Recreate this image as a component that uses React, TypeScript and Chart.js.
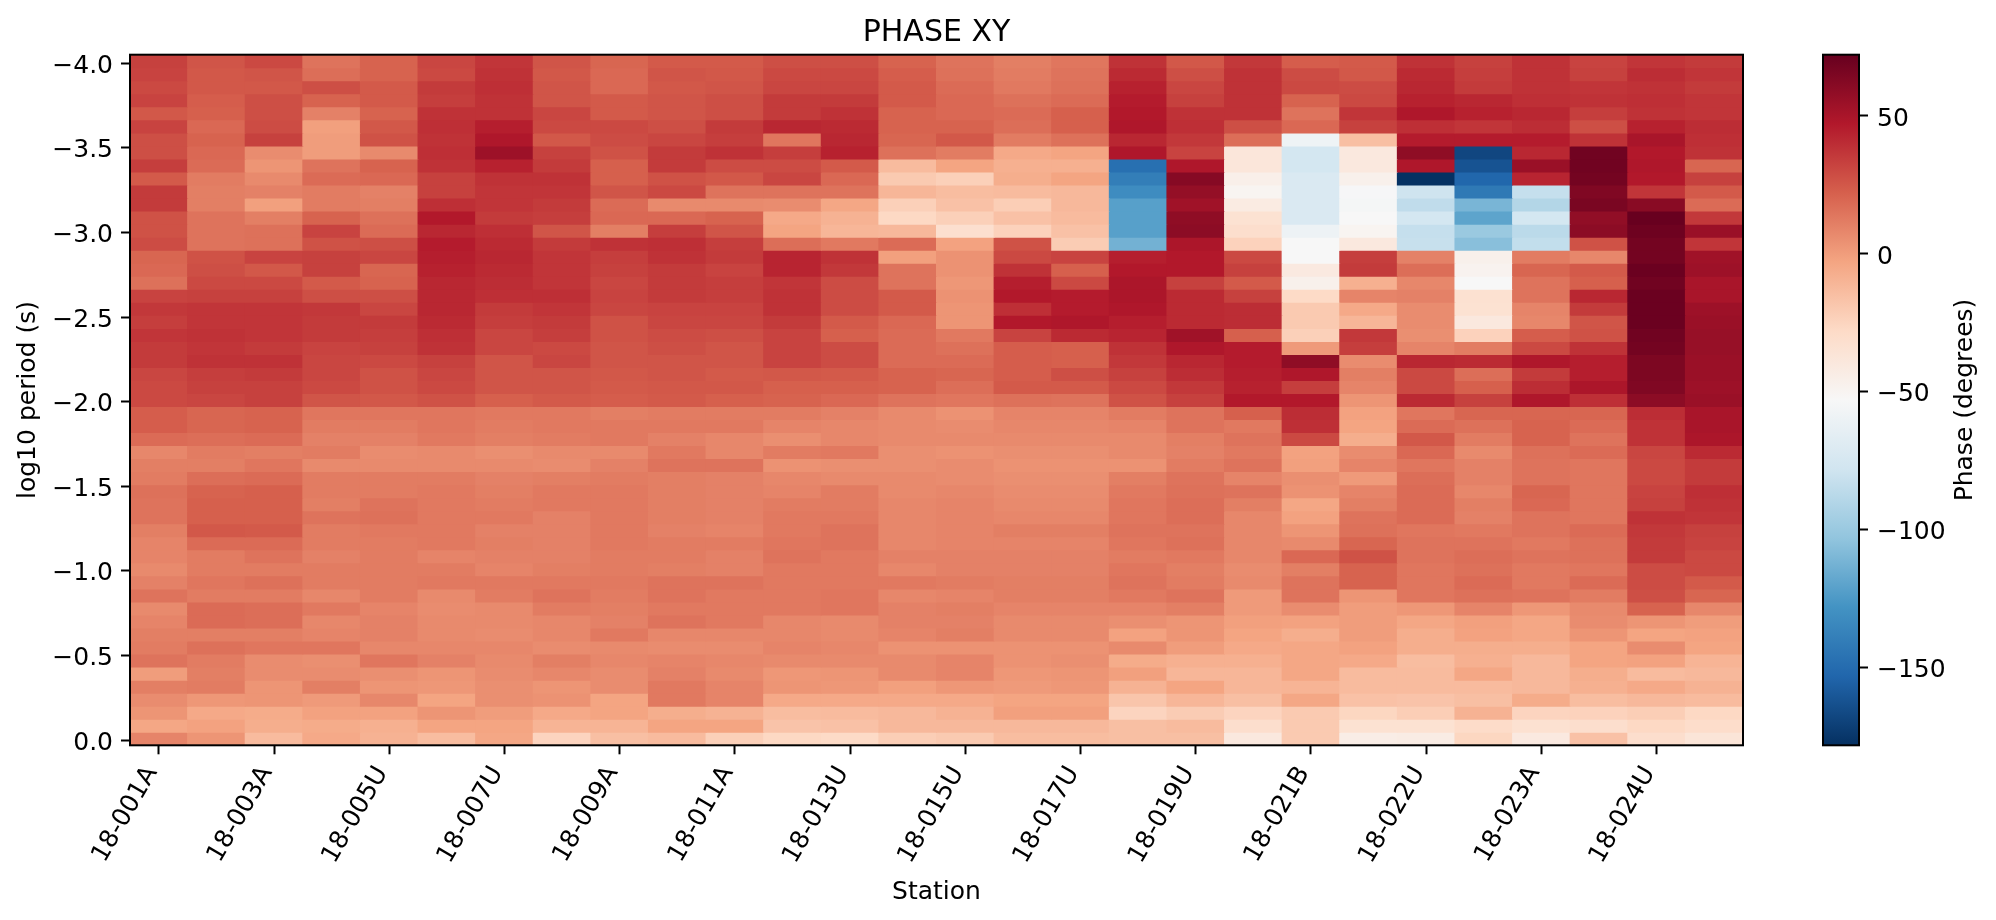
import React, { useEffect, useRef } from "react";
import { Chart, registerables } from "chart.js";

Chart.register(...registerables);

const stations = [
  "18-001A", "", "18-003A", "", "18-005U", "", "18-007U", "", "18-009A", "", "18-011A", "", "18-013U", "",
  "18-015U", "", "18-017U", "", "18-019U", "", "18-021B", "", "18-022U", "", "18-023A", "", "18-024U", "",
];

const rowEdges = [
  -4.05, -3.973, -3.896, -3.819, -3.742, -3.665, -3.588, -3.511, -3.434, -3.357, -3.28, -3.203, -3.126, -3.049,
  -2.972, -2.895, -2.818, -2.741, -2.664, -2.587, -2.51, -2.433, -2.356, -2.279, -2.202, -2.125, -2.049, -1.972,
  -1.895, -1.818, -1.741, -1.664, -1.587, -1.51, -1.433, -1.356, -1.279, -1.202, -1.125, -1.048, -0.971, -0.894,
  -0.817, -0.74, -0.663, -0.586, -0.509, -0.432, -0.355, -0.278, -0.201, -0.124, -0.047, 0.03,
];

const yTicks = [-4, -3.5, -3, -2.5, -2, -1.5, -1, -0.5, 0];
const cbTicks = [-150, -100, -50, 0, 50];
const vMin = -178.4;
const vMax = 72.2;

const s00 = [33,32,30,32,25,32,28,28,34,24,35,35,27,27,29,20,19,16,32,36,34,37,35,35,31,30,30,23,23,18,8,11,12,16,15,15,11,9,9,7,10,15,7,9,11,12,15,0,11,6,3,-4,9];
const s01 = [26,25,25,23,22,19,21,19,18,12,11,11,15,15,15,27,28,30,33,37,37,38,37,38,34,33,31,20,20,17,12,11,17,21,22,22,25,18,12,12,14,12,18,18,11,16,12,11,12,2,-5,-2,3];
const s02 = [30,26,25,28,28,29,33,6,3,7,10,-1,11,16,16,32,25,30,33,37,37,37,35,38,35,33,33,21,21,18,11,14,18,22,22,22,24,18,15,12,16,12,17,17,11,14,6,6,3,3,-6,-7,-13];
const s03 = [15,17,28,21,10,-1,0,0,15,18,12,12,21,32,27,33,33,24,28,36,35,35,32,31,31,30,26,14,12,10,12,7,12,12,11,15,12,12,10,12,12,8,13,8,9,14,5,6,11,1,-2,-6,-5];
const s04 = [21,21,24,24,21,25,27,7,21,19,10,11,16,18,28,31,20,21,28,31,35,34,33,30,27,27,25,14,12,10,6,7,12,12,15,16,13,12,12,12,12,12,9,10,10,8,14,5,3,8,-2,-8,-9];
const s05 = [31,30,35,34,38,39,38,39,38,33,33,39,47,42,46,45,44,42,42,42,41,39,38,33,31,30,27,14,14,13,7,7,12,13,13,13,13,13,9,12,13,7,6,7,7,8,10,3,2,-3,3,-3,-14];
const s06 = [37,38,39,38,38,45,48,54,44,38,37,37,35,39,41,42,41,40,39,35,34,31,31,26,26,26,22,13,12,11,5,7,10,11,12,13,10,11,10,9,13,12,7,7,6,8,7,6,5,5,0,-3,-4];
const s07 = [26,25,26,26,31,30,25,33,35,38,37,35,34,26,35,37,37,37,39,37,35,34,30,31,26,26,24,13,13,12,7,6,11,13,13,10,10,10,10,11,13,15,12,8,8,6,11,8,3,4,-5,-10,-25];
const s08 = [20,19,19,24,24,30,29,27,22,22,26,18,19,11,38,34,33,31,32,31,27,27,26,26,25,24,23,11,13,13,7,10,12,13,13,13,13,13,12,12,13,12,11,10,13,7,8,6,6,-3,-3,-10,-15];
const s09 = [24,26,25,26,26,28,31,35,35,27,30,7,19,34,39,38,35,35,35,32,31,29,28,26,26,25,24,12,13,10,13,15,11,11,11,11,10,12,12,11,15,15,13,15,8,6,9,10,13,13,-7,-3,-13];
const s10 = [24,25,26,28,28,35,34,38,29,25,15,7,21,26,34,35,32,34,34,32,31,28,26,26,24,25,22,12,13,8,8,15,10,10,10,10,9,12,10,10,15,13,13,13,8,6,8,7,9,9,-9,-3,-23];
const s11 = [28,30,31,35,35,42,14,34,29,31,15,6,-5,-3,17,43,43,37,38,38,35,32,32,32,25,22,21,12,9,5,12,4,8,9,12,13,13,14,15,13,13,13,13,8,8,9,7,2,3,-5,-14,-17,-27];
const s12 = [28,30,31,35,38,41,42,44,24,19,15,-4,-9,-11,13,38,36,29,29,29,24,22,29,29,24,22,19,10,8,8,13,5,7,12,12,13,15,15,13,13,13,14,14,7,7,8,7,3,2,-5,-13,-16,-28];
const s13 = [21,23,24,24,21,21,20,16,-13,-20,-11,-23,-27,-12,18,-1,15,15,24,24,19,18,18,18,21,21,15,7,7,7,5,5,7,7,8,8,8,8,10,8,13,8,10,10,9,4,7,7,-1,-5,-12,-12,-22];
const s14 = [15,16,18,19,19,21,25,12,-3,-23,-14,-16,-23,-32,-2,4,4,2,4,3,3,13,16,18,20,17,14,4,6,7,4,6,6,8,9,9,9,9,10,10,12,9,11,10,11,4,9,9,2,-5,-9,-12,-20];
const s15 = [11,12,13,16,18,17,12,-5,-8,-7,-13,-22,-16,-24,27,30,38,45,47,39,47,32,23,23,23,24,16,9,8,7,5,4,5,6,7,8,11,9,10,10,11,11,9,7,7,4,4,2,1,-3,-1,-12,-14];
const s16 = [14,15,16,18,22,22,16,-3,-8,-3,-12,-12,-13,-16,-21,32,22,30,46,46,48,41,22,22,28,24,15,9,8,7,5,4,5,6,7,8,11,9,10,10,11,11,9,7,7,4,5,3,2,-3,-1,-12,-14];
const s17 = [38,41,44,46,47,48,42,48,-148,-140,-132,-122,-122,-122,-113,45,47,49,49,48,45,43,38,36,33,30,27,12,9,7,7,4,11,13,14,14,15,14,12,14,15,13,9,5,-2,7,-6,-1,-9,-18,-25,-15,-15];
const s18 = [25,28,31,33,38,39,36,32,48,62,57,53,59,60,49,47,47,33,41,41,41,53,48,42,40,36,33,15,15,11,10,12,15,16,17,17,15,16,13,11,12,15,11,3,3,0,-8,-11,-3,-11,-21,-13,-15];
const s19 = [36,38,38,38,38,28,17,-38,-38,-46,-50,-42,-34,-31,-24,30,33,24,33,40,40,22,46,46,45,44,47,22,13,15,13,15,9,15,11,8,8,8,8,6,7,1,1,-1,-3,-5,-8,-11,-11,-15,-25,-31,-40];
const s20 = [23,29,30,21,15,19,-59,-76,-76,-72,-72,-72,-72,-60,-53,-53,-41,-47,-28,-20,-20,-23,1,59,48,34,47,40,39,30,-2,-1,5,4,-4,-2,3,7,19,11,15,15,6,-2,-7,-4,-4,-4,-10,-4,-20,-20,-20];
const s21 = [24,25,29,30,37,33,-15,-40,-40,-47,-54,-55,-53,-50,-40,34,35,-8,9,-5,-11,36,34,6,11,9,3,-2,-3,-7,6,9,1,9,11,15,16,20,27,21,21,3,0,0,0,-2,-5,-13,-13,-16,-26,-34,-44];
const s22 = [38,41,42,44,48,39,46,59,48,-178,-79,-85,-76,-83,-82,10,17,8,10,6,6,5,9,42,30,30,41,14,18,25,19,14,17,18,18,18,14,15,15,14,14,14,2,-4,-7,-7,-14,-13,-13,-17,-22,-34,-43];
const s23 = [33,34,35,42,44,37,46,-168,-162,-153,-143,-111,-120,-100,-106,-47,-49,-53,-33,-34,-40,-24,12,41,17,22,33,20,16,12,7,10,10,8,11,10,13,15,17,16,18,16,9,-1,-2,-7,-8,-4,-13,-15,-9,-29,-26];
const s24 = [38,38,38,39,42,40,46,42,55,43,-83,-90,-76,-87,-84,12,20,15,15,9,8,23,30,48,35,40,48,20,21,21,16,15,15,20,19,15,15,13,15,13,13,15,2,-4,-4,-7,-12,-12,-12,-6,-25,-33,-41];
const s25 = [32,33,37,38,34,28,38,69,69,68,64,66,58,60,27,8,24,22,42,35,26,27,38,45,45,49,39,20,18,15,18,14,14,14,14,14,18,16,16,14,18,12,7,6,3,-3,-3,-7,-8,-14,-24,-31,-16];
const s26 = [37,40,38,39,38,44,50,47,48,47,37,61,72,70,68,68,71,69,71,71,71,69,68,65,65,64,60,40,38,38,31,30,30,32,33,38,36,35,35,29,29,28,21,3,-3,6,-2,-13,-5,-12,-22,-27,-31];
const s27 = [35,37,35,37,37,40,39,38,20,33,24,18,36,55,37,53,54,50,50,54,55,56,56,55,55,54,55,50,50,49,41,35,35,39,38,37,33,32,30,30,24,20,8,0,-2,-3,-10,-12,-9,-13,-27,-30,-37];

const columns = [s00,s01,s02,s03,s04,s05,s06,s07,s08,s09,s10,s11,s12,s13,s14,s15,s16,s17,s18,s19,s20,s21,s22,s23,s24,s25,s26,s27];

const rdbuR = [
  [5, 48, 97], [33, 102, 172], [67, 147, 195], [146, 197, 222], [209, 229, 240], [247, 247, 247],
  [253, 219, 199], [244, 165, 130], [214, 96, 77], [178, 24, 43], [103, 0, 31],
];

function rampAt(t: number) {
  const p = Math.min(0.99999, Math.max(0, t)) * (rdbuR.length - 1);
  const i = Math.floor(p);
  const f = p - i;
  const a = rdbuR[i];
  const b = rdbuR[i + 1];
  return `rgb(${[0, 1, 2].map((k) => Math.round(a[k] + (b[k] - a[k]) * f)).join(",")})`;
}
const colorOf = (v: number) => rampAt((v - vMin) / (vMax - vMin));

const FONT = "'DejaVu Sans', sans-serif";
const fmt = (v: number, d: number) => {
  const s = Math.abs(v).toFixed(d);
  return v < -1e-9 ? "\u2212" + s : s;
};

const framePlugin = {
  id: "frame",
  afterDatasetsDraw(chart: any) {
    const { ctx, chartArea: a } = chart;
    ctx.save();
    ctx.strokeStyle = "#000";
    ctx.lineWidth = 2;
    ctx.strokeRect(a.left, a.top, a.right - a.left, a.bottom - a.top);
    ctx.restore();
  },
};

const cbLabelPlugin = {
  id: "cbLabel",
  afterDraw(chart: any) {
    const { ctx, chartArea: a } = chart;
    ctx.save();
    ctx.translate(205, (a.top + a.bottom) / 2);
    ctx.rotate(-Math.PI / 2);
    ctx.font = `25px ${FONT}`;
    ctx.fillStyle = "#000";
    ctx.textAlign = "center";
    ctx.textBaseline = "middle";
    ctx.fillText("Phase (degrees)", 0, 0);
    ctx.restore();
  },
};

export default function App() {
  const mainRef = useRef<HTMLCanvasElement>(null);
  const cbRef = useRef<HTMLCanvasElement>(null);

  useEffect(() => {
    const datasets = rowEdges.slice(0, -1).map((lo, r) => ({
      label: `row ${r}`,
      data: columns.map(() => [lo, rowEdges[r + 1]]),
      backgroundColor: columns.map((c) => colorOf(c[r])),
      borderWidth: 0,
      inflateAmount: 0.5,
      grouped: false,
      barPercentage: 1,
      categoryPercentage: 1,
    }));

    const main = new Chart(mainRef.current!, {
      type: "bar",
      data: { labels: stations, datasets: datasets as any },
      plugins: [framePlugin],
      options: {
        animation: false,
        responsive: false,
        devicePixelRatio: 1,
        layout: { padding: { left: 0, right: 253, top: 0, bottom: 0 } },
        plugins: {
          legend: { display: false },
          tooltip: { enabled: false },
          title: {
            display: true,
            text: "PHASE XY",
            fullSize: false,
            color: "#000",
            font: { family: FONT, size: 30, weight: "normal" },
            padding: { top: 15.5, bottom: 3.2 },
          },
        },
        scales: {
          x: {
            type: "category",
            offset: true,
            grid: { offset: false, drawOnChartArea: false, drawTicks: true, tickLength: 9, tickWidth: 2, tickColor: "#000" },
            border: { display: false },
            ticks: {
              autoSkip: false,
              minRotation: 60,
              maxRotation: 60,
              padding: 7,
              labelOffset: -7,
              color: "#000",
              font: { family: FONT, size: 25 },
            },
            title: {
              display: true,
              text: "Station",
              color: "#000",
              font: { family: FONT, size: 25 },
              padding: { top: 0, bottom: 13 },
            },
            afterBuildTicks: (s: any) => {
              s.ticks = s.ticks.filter((t: any) => stations[t.value] !== "");
            },
            afterFit: (s: any) => {
              s.height = 174.7;
            },
          },
          y: {
            type: "linear",
            reverse: true,
            min: rowEdges[0],
            max: rowEdges[rowEdges.length - 1],
            grid: { drawOnChartArea: false, drawTicks: true, tickLength: 9, tickWidth: 2, tickColor: "#000" },
            border: { display: false },
            ticks: {
              padding: 8,
              labelOffset: 3,
              color: "#000",
              font: { family: FONT, size: 25 },
              callback: (v: any) => fmt(Number(v), 1),
            },
            title: {
              display: true,
              text: "log10 period (s)",
              color: "#000",
              font: { family: FONT, size: 25 },
              padding: { top: 13.5, bottom: 0 },
            },
            afterBuildTicks: (s: any) => {
              s.ticks = yTicks.map((value) => ({ value }));
            },
            afterFit: (s: any) => {
              s.width = 130;
            },
          },
        },
      } as any,
    });

    const bar = new Chart(cbRef.current!, {
      type: "bar",
      data: {
        labels: ["Phase"],
        datasets: [
          {
            data: [[vMin, vMax]],
            borderWidth: 0,
            barPercentage: 1,
            categoryPercentage: 1,
            backgroundColor: (c: any) => {
              const a = c.chart.chartArea;
              if (!a) return "#fff";
              const g = c.chart.ctx.createLinearGradient(0, a.bottom, 0, a.top);
              rdbuR.forEach((_, i) => {
                const t = i / (rdbuR.length - 1);
                g.addColorStop(t, rampAt(t));
              });
              return g;
            },
          } as any,
        ],
      },
      plugins: [framePlugin, cbLabelPlugin],
      options: {
        animation: false,
        responsive: false,
        devicePixelRatio: 1,
        layout: { padding: { left: 63, right: 0, top: 54.7, bottom: 174.7 } },
        plugins: { legend: { display: false }, tooltip: { enabled: false }, title: { display: false } },
        scales: {
          x: { display: false },
          y: {
            position: "right",
            min: vMin,
            max: vMax,
            grid: { drawOnChartArea: false, drawTicks: true, tickLength: 9, tickWidth: 2, tickColor: "#000" },
            border: { display: false },
            ticks: {
              padding: 9,
              labelOffset: 3.5,
              color: "#000",
              font: { family: FONT, size: 25 },
              callback: (v: any) => fmt(Number(v), 0),
            },
            afterBuildTicks: (s: any) => {
              s.ticks = cbTicks.map((value) => ({ value }));
            },
            afterFit: (s: any) => {
              s.width = 137;
            },
          },
        },
      } as any,
    });

    return () => {
      main.destroy();
      bar.destroy();
    };
  }, []);

  return (
    <div style={{ position: "fixed", left: 0, top: 0, width: 1996, height: 920, background: "#fff", overflow: "hidden" }}>
      <canvas ref={mainRef} width={1996} height={920} style={{ position: "absolute", left: 0, top: 0, width: 1996, height: 920 }} />
      <canvas ref={cbRef} width={236} height={920} style={{ position: "absolute", left: 1760, top: 0, width: 236, height: 920 }} />
    </div>
  );
}
